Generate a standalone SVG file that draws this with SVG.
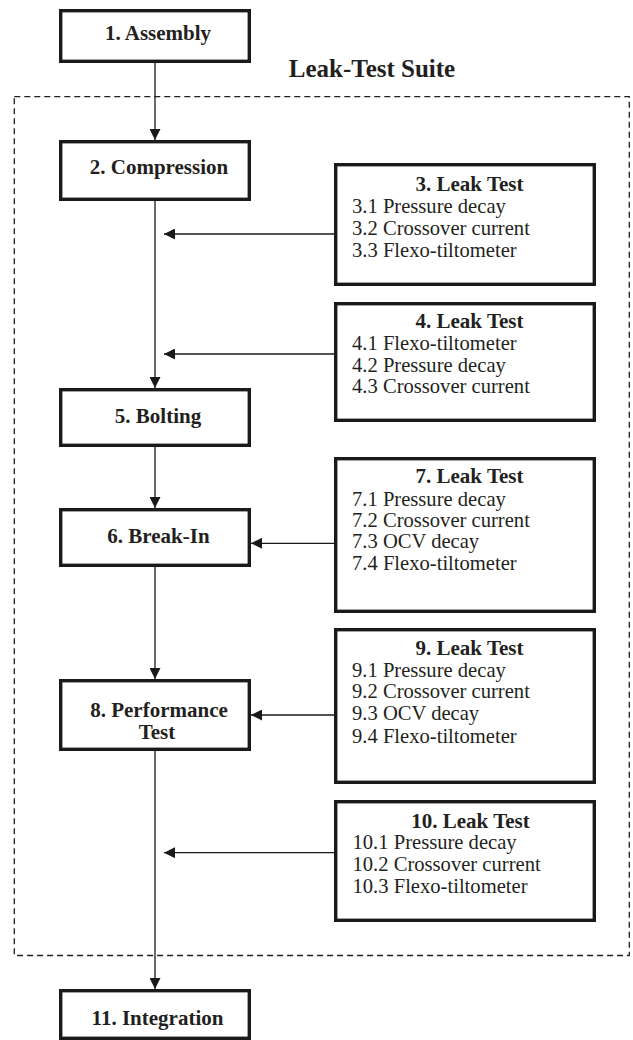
<svg xmlns="http://www.w3.org/2000/svg" width="633" height="1040" viewBox="0 0 633 1040">
<style>
.box{fill:#fff;stroke:#1a1a1a;stroke-width:3.4}
.lbl{font-family:"Liberation Serif","Times New Roman",serif;font-weight:bold;font-size:21px;fill:#231f20;text-anchor:middle}
.item{font-family:"Liberation Serif","Times New Roman",serif;font-size:20.6px;fill:#231f20}
.conn{stroke:#1a1a1a;stroke-width:1.3;fill:none;marker-end:url(#arr)}
.suite{fill:none;stroke:#231f20;stroke-width:1.3;stroke-dasharray:6 4}
.title{font-family:"Liberation Serif","Times New Roman",serif;font-weight:bold;font-size:25px;fill:#231f20;text-anchor:middle}
</style>
<defs>
<marker id="arr" markerUnits="userSpaceOnUse" markerWidth="11" markerHeight="11" refX="11" refY="5.5" orient="auto">
<path d="M0,0 L11,5.5 L0,11 z" fill="#1a1a1a"/>
</marker>
</defs>
<rect width="633" height="1040" fill="#fff"/>
<g id="suite">
<rect class="suite" x="14.3" y="96.7" width="615" height="858.8"/>
<text class="title" x="372" y="77">Leak-Test Suite</text>
</g>
<g id="connectors">
<line class="conn" x1="155" y1="63" x2="155" y2="140"/>
<line class="conn" x1="155" y1="201" x2="155" y2="388"/>
<line class="conn" x1="155" y1="447" x2="155" y2="508"/>
<line class="conn" x1="155" y1="567" x2="155" y2="679"/>
<line class="conn" x1="155" y1="751" x2="155" y2="989"/>
<line class="conn" x1="334" y1="234" x2="164" y2="234"/>
<line class="conn" x1="334" y1="354" x2="164" y2="354"/>
<line class="conn" x1="334" y1="543.3" x2="251" y2="543.3"/>
<line class="conn" x1="334" y1="715" x2="251" y2="715"/>
<line class="conn" x1="334" y1="852.7" x2="164" y2="852.7"/>
</g>
<g id="n1"><rect class="box" x="60.7" y="10.7" width="188.6" height="50.6"/><text class="lbl" x="158" y="40">1. Assembly</text></g>
<g id="n2"><rect class="box" x="60.7" y="141.7" width="188.6" height="57.6"/><text class="lbl" x="159" y="174">2. Compression</text></g>
<g id="n5"><rect class="box" x="60.7" y="389.7" width="188.6" height="55.6"/><text class="lbl" x="158" y="423.3">5. Bolting</text></g>
<g id="n6"><rect class="box" x="60.7" y="509.7" width="188.6" height="55.6"/><text class="lbl" x="158.5" y="543.3">6. Break-In</text></g>
<g id="n8"><rect class="box" x="60.7" y="680.7" width="188.6" height="68.6"/><text class="lbl" x="159" y="716.5">8. Performance</text><text class="lbl" x="157" y="738.5">Test</text></g>
<g id="n11"><rect class="box" x="60.7" y="990.7" width="188.6" height="47.6"/><text class="lbl" x="157.5" y="1025">11. Integration</text></g>
<g id="n3"><rect class="box" x="335.7" y="164.7" width="258.6" height="119.6"/>
<text class="lbl" x="469.5" y="190.7">3. Leak Test</text>
<text class="item" x="352" y="212.7">3.1 Pressure decay</text>
<text class="item" x="352" y="235">3.2 Crossover current</text>
<text class="item" x="352" y="256.7">3.3 Flexo-tiltometer</text></g>
<g id="n4"><rect class="box" x="335.7" y="303.7" width="258.6" height="116.6"/>
<text class="lbl" x="469.5" y="327.7">4. Leak Test</text>
<text class="item" x="352" y="350">4.1 Flexo-tiltometer</text>
<text class="item" x="352" y="371.7">4.2 Pressure decay</text>
<text class="item" x="352" y="393.3">4.3 Crossover current</text></g>
<g id="n7"><rect class="box" x="335.7" y="458.7" width="258.6" height="152.6"/>
<text class="lbl" x="469.5" y="483.3">7. Leak Test</text>
<text class="item" x="352" y="506">7.1 Pressure decay</text>
<text class="item" x="352" y="526.7">7.2 Crossover current</text>
<text class="item" x="352" y="548.3">7.3 OCV decay</text>
<text class="item" x="352" y="570">7.4 Flexo-tiltometer</text></g>
<g id="n9"><rect class="box" x="335.7" y="629.7" width="258.6" height="152.6"/>
<text class="lbl" x="469.5" y="655">9. Leak Test</text>
<text class="item" x="352" y="676.7">9.1 Pressure decay</text>
<text class="item" x="352" y="698.3">9.2 Crossover current</text>
<text class="item" x="352" y="720">9.3 OCV decay</text>
<text class="item" x="352" y="743">9.4 Flexo-tiltometer</text></g>
<g id="n10"><rect class="box" x="335.7" y="801.7" width="258.6" height="118.6"/>
<text class="lbl" x="470.5" y="827.7">10. Leak Test</text>
<text class="item" x="352.5" y="849.3">10.1 Pressure decay</text>
<text class="item" x="352.5" y="870.7">10.2 Crossover current</text>
<text class="item" x="352.5" y="893.3">10.3 Flexo-tiltometer</text></g>
</svg>
